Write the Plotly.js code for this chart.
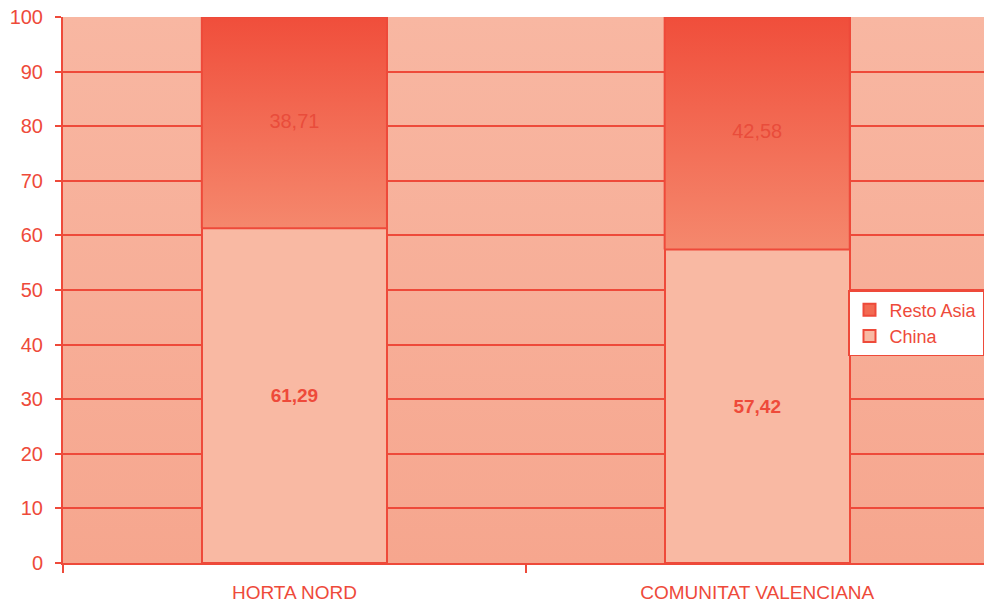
<!DOCTYPE html>
<html>
<head>
<meta charset="utf-8">
<script src="https://cdn.plot.ly/plotly-3.0.1.min.js"></script>
<style>html,body{margin:0;padding:0;background:#fff;}#chart{width:984px;height:603px;}</style>
</head>
<body>
<div id="chart"></div>
<script>
const categories = ['HORTA NORD', 'COMUNITAT VALENCIANA'];
const china = [61.29, 57.42];
const restoAsia = [38.71, 42.58];
const seriesNames = ['China', 'Resto Asia'];
const yTicks = [0, 10, 20, 30, 40, 50, 60, 70, 80, 90, 100];

const RED = '#EE4A3A';
const FONT = 'Liberation Sans, Arial, sans-serif';
const BAR_W = 0.4;
const idx = categories.map((c, i) => i);
const fmt = v => v.toFixed(2).replace('.', ',');

const traces = [];
traces.push({
  type: 'bar', name: seriesNames[0], x: idx, y: china, width: BAR_W,
  marker: {color: '#F9B9A3', line: {color: RED, width: 2}},
  text: china.map(v => '<b>' + fmt(v) + '</b>'), textposition: 'inside',
  insidetextanchor: 'middle', textangle: 0,
  textfont: {family: FONT, size: 19, color: '#EE4A3A'},
  hoverinfo: 'skip'
});
traces.push({
  type: 'bar', name: seriesNames[1], x: idx, y: restoAsia, width: BAR_W,
  marker: {color: '#F26A52', line: {color: RED, width: 2}},
  hoverinfo: 'skip'
});
// gradient fill of the Resto Asia segments, built from the same data
idx.forEach(i => {
  const b = china[i], t = china[i] + restoAsia[i];
  traces.push({
    type: 'scatter', mode: 'lines', showlegend: false, hoverinfo: 'skip',
    x: [i - BAR_W / 2, i + BAR_W / 2, i + BAR_W / 2, i - BAR_W / 2, i - BAR_W / 2],
    y: [b, b, t, t, b],
    fill: 'toself',
    fillgradient: {type: 'vertical', start: b, stop: t,
      colorscale: [[0, '#F5886D'], [1, '#F04E3B']]},
    line: {color: RED, width: 2}
  });
});
traces.push({
  type: 'scatter', mode: 'text', showlegend: false, hoverinfo: 'skip',
  x: idx, y: idx.map(i => china[i] + restoAsia[i] / 2),
  text: restoAsia.map(fmt),
  textfont: {family: FONT, size: 20, color: '#E94C3B'}
});

const svgBg = "<svg xmlns='http://www.w3.org/2000/svg' width='10' height='100' preserveAspectRatio='none'>" +
  "<defs><linearGradient id='g' x1='0' y1='0' x2='0' y2='1'><stop offset='0' stop-color='#F8B7A2'/>" +
  "<stop offset='1' stop-color='#F6A68E'/></linearGradient></defs><rect width='10' height='100' fill='url(#g)'/></svg>";

const layout = {
  width: 984, height: 603,
  margin: {l: 63, r: 0, t: 17, b: 40, autoexpand: false},
  paper_bgcolor: '#ffffff', plot_bgcolor: '#F7AF98',
  barmode: 'stack', showlegend: true,
  font: {family: FONT, color: RED},
  images: [{source: 'data:image/svg+xml;charset=utf-8,' + encodeURIComponent(svgBg),
    xref: 'paper', yref: 'paper', x: 0, y: 1, sizex: 1, sizey: 1,
    sizing: 'stretch', xanchor: 'left', yanchor: 'top', layer: 'below'}],
  xaxis: {
    type: 'linear', range: [-0.5, 1.49], tickmode: 'array', tickvals: idx, ticktext: categories,
    ticks: '', showgrid: false, zeroline: false,
    showline: true, linecolor: RED, linewidth: 2,
    tickfont: {family: FONT, size: 19, color: RED}, ticklabelstandoff: 11,
    minor: {tick0: -0.5, dtick: 1, ticks: 'outside', ticklen: 8, tickwidth: 2, tickcolor: RED, showgrid: false},
    fixedrange: true
  },
  yaxis: {
    range: [0, 100], tickmode: 'array', tickvals: yTicks, ticktext: yTicks.map(String),
    ticks: 'outside', ticklen: 6, tickwidth: 2, tickcolor: RED,
    showgrid: true, gridcolor: RED, gridwidth: 2, zeroline: false,
    showline: true, linecolor: RED, linewidth: 2,
    tickfont: {family: FONT, size: 20, color: RED}, ticklabelstandoff: 8,
    fixedrange: true
  },
  legend: {
    x: 1, y: 0.5, xanchor: 'right', yanchor: 'top',
    bgcolor: '#ffffff', bordercolor: RED, borderwidth: 1.5,
    font: {family: FONT, size: 18, color: RED}, traceorder: 'reversed',
    itemwidth: 30, tracegroupgap: 0
  }
};

Plotly.newPlot('chart', traces, layout, {displayModeBar: false, staticPlot: true});
</script>
</body>
</html>
